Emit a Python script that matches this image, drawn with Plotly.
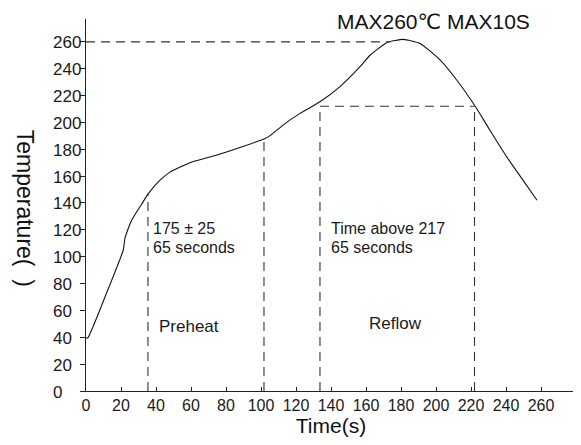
import plotly.graph_objects as go

# Reflow profile curve
time_s = [0, 1, 10.9, 21.3, 22.3, 26, 32.7, 35.6, 42.3, 48, 59.4, 74.8, 101.7, 105, 112.6,
          122.3, 133.7, 145, 156.6, 162.3, 171.8, 181.3, 190.9, 202.3, 211.8, 222.3, 230.9,
          240.6, 249.7, 257.7]
temp_c = [39.5, 39.5, 70.2, 105, 114, 127, 141, 147, 157, 163, 170, 175.7, 187.6, 190, 198,
          206.7, 215.4, 226.5, 241.5, 250, 259.4, 261.8, 258.8, 246.5, 231.6, 212.2, 194,
          174, 157, 142]

# Guide lines
preheat_start, preheat_end = 35.4, 101.7
preheat_start_temp, preheat_end_temp = 147, 187.6
reflow_start, reflow_end = 133.7, 222
reflow_level = 212
peak_level = 260
peak_line_end = 174

x_ticks = [0, 20, 40, 60, 80, 100, 120, 140, 160, 180, 200, 220, 240, 260]
y_ticks = [0, 20, 40, 60, 80, 100, 120, 140, 160, 180, 200, 220, 240, 260]

title_text = "MAX260℃ MAX10S"
x_title = "Time(s)"
y_title = "Temperature(  )"

FONT = "Liberation Sans, Arial, DejaVu Sans, sans-serif"
DASH = "9px,6px"
DCOL = "#333333"

fig = go.Figure()
fig.add_trace(go.Scatter(x=time_s, y=temp_c, mode="lines",
                         line=dict(color="#111111", width=1.1, shape="spline", smoothing=0.5),
                         hoverinfo="skip", showlegend=False))

shapes = []
def dline(x0, y0, x1, y1):
    shapes.append(dict(type="line", xref="x", yref="y", x0=x0, y0=y0, x1=x1, y1=y1,
                       line=dict(color=DCOL, width=1.1, dash=DASH)))

dline(0, peak_level, peak_line_end, peak_level)
dline(preheat_start, 0, preheat_start, preheat_start_temp)
dline(preheat_end, 0, preheat_end, preheat_end_temp)
dline(reflow_start, 0, reflow_start, reflow_level)
dline(reflow_end, 0, reflow_end, reflow_level)
dline(reflow_start, reflow_level, reflow_end, reflow_level)

ann = []
def txt(x, y, s, size=16, xanchor="left", **kw):
    ann.append(dict(x=x, y=y, text=s, showarrow=False, xanchor=xanchor, yanchor="middle",
                    borderpad=0, font=dict(family=FONT, size=size, color="#1a1a1a"), **kw))

txt(37.5, 121, "175 ± 25", size=16)
txt(37.5, 107, "65 seconds", size=16)
txt(41, 48, "Preheat", size=17)
txt(139.4, 121, "Time above 217", size=16)
txt(139.4, 107, "65 seconds", size=16)
txt(161, 50, "Reflow", size=17)

# left-aligned y tick labels
for v in y_ticks:
    ann.append(dict(x=-0.0714, xref="paper", y=v, yref="y", text=str(v), showarrow=False,
                    xanchor="left", yanchor="middle", yshift=-1,
                    font=dict(family=FONT, size=17, color="#1a1a1a")))

ann.append(dict(x=0.71, xref="paper", y=0.9946, yref="paper", text=title_text, showarrow=False,
                xanchor="center", yanchor="middle", borderpad=0,
                font=dict(family=FONT, size=21, color="#111111")))
ann.append(dict(x=-0.1245, xref="paper", y=0.49, yref="paper", text=y_title, showarrow=False,
                xanchor="center", yanchor="middle", textangle=90,
                font=dict(family=FONT, size=23, color="#111111")))

# page body has an 8px margin: shrink figure and margins accordingly
fig.update_layout(
    width=573, height=437,
    margin=dict(l=78, r=5, t=11, b=54, autoexpand=False),
    paper_bgcolor="white", plot_bgcolor="white",
    shapes=shapes, annotations=ann,
    xaxis=dict(range=[0, 280], tickvals=x_ticks, ticktext=[str(v) for v in x_ticks],
               ticks="inside", ticklen=4, tickcolor="#222", showline=True, linecolor="#222",
               linewidth=1, showgrid=False, zeroline=False, automargin=False,
               tickfont=dict(family=FONT, size=16, color="#1a1a1a"),
               title=dict(text=x_title, font=dict(family=FONT, size=21, color="#111111"), standoff=0)),
    yaxis=dict(range=[0, 277], tickvals=y_ticks, showticklabels=False, automargin=False,
               ticks="outside", ticklen=5, tickcolor="#222", showline=True, linecolor="#222",
               linewidth=1, showgrid=False, zeroline=False),
)

fig.write_html("out.html")
